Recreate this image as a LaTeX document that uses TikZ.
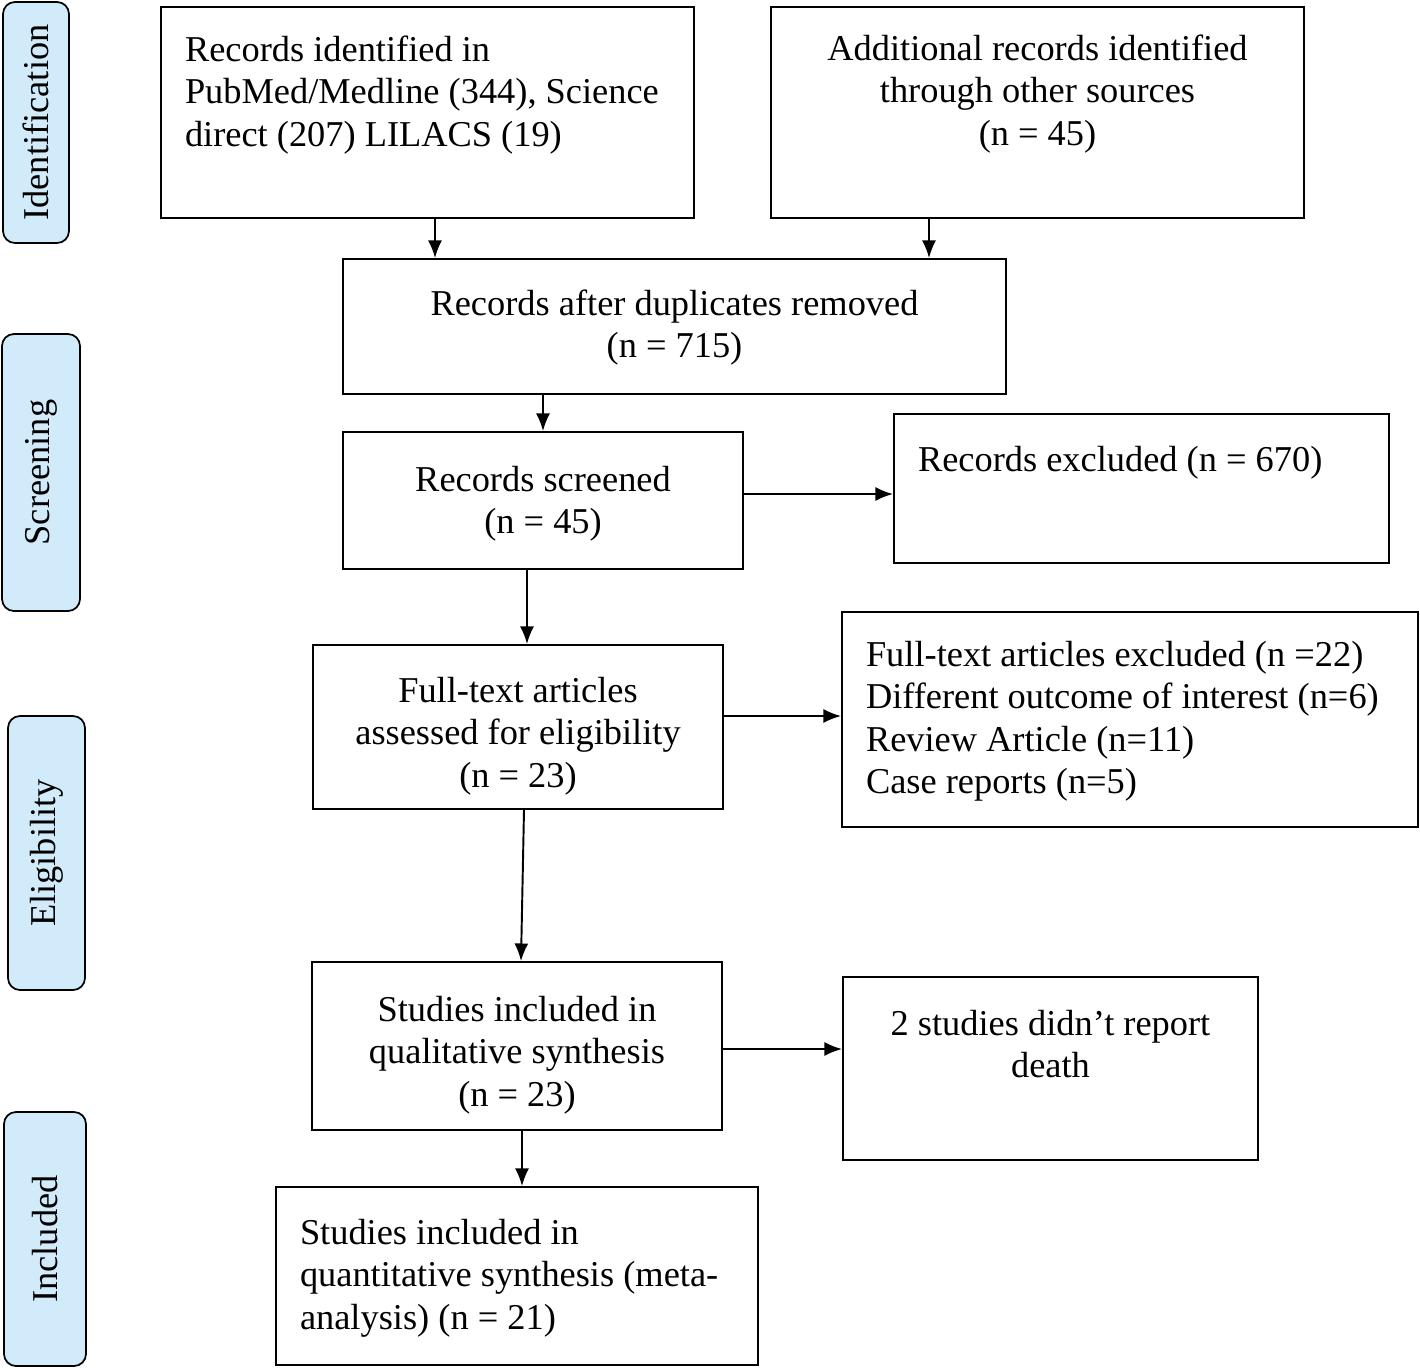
\documentclass[tikz,border=0pt]{standalone}
\usepackage{fontspec}
\setmainfont{Liberation Serif}
\usetikzlibrary{arrows.meta}
\definecolor{stageblue}{RGB}{210,235,251}

\begin{document}
\begin{tikzpicture}[>={Latex[length=10pt,width=8pt]}]
	\tikzstyle{block} = [draw, shape=rectangle, line width=1.1pt, inner xsep=0.48cm, inner ysep=0pt, font=\fontsize{20.7}{24.2}\selectfont]
	\tikzstyle{lblock} = [block, align=flush left]
	\tikzstyle{cblock} = [block, align=flush center]
	\tikzstyle{stage} = [draw, shape=rectangle, rounded corners=0.24cm, fill=stageblue, line width=1pt, rotate=90, font=\fontsize{20.7}{24.2}\selectfont]
	\useasboundingbox (0,0) rectangle (28.4,-27.36);
	%Phase labels
	\node [stage, minimum width=4.82cm, minimum height=1.32cm] at (0.72,-2.45) (lident) {Identification};
	\node [stage, minimum width=5.54cm, minimum height=1.56cm] at (0.82,-9.45) (lscreen) {Screening};
	\node [stage, minimum width=5.48cm, minimum height=1.54cm] at (0.93,-17.06) (lelig) {Eligibility};
	\node [stage, minimum width=5.08cm, minimum height=1.64cm] at (0.90,-24.78) (lincl) {Included};
	%Creating Blocks
	\node [lblock, text width=9.70cm, text height=1.08cm, text depth=3.14cm] at (8.55,-2.25) (ident) {Records identified in\\ PubMed/Medline (344), Science\\ direct (207) LILACS (19)};
	\node [cblock, text width=9.70cm, text height=1.06cm, text depth=3.16cm] at (20.75,-2.25) (other) {Additional records identified\\ through other sources\\ (n = 45)};
	\node [cblock, text width=12.30cm, text height=1.12cm, text depth=1.58cm] at (13.49,-6.53) (dupl) {Records after duplicates removed\\ (n = 715)};
	\node [cblock, text width=7.04cm, text height=1.18cm, text depth=1.56cm] at (10.86,-10.01) (screen) {Records screened\\ (n = 45)};
	\node [lblock, text width=8.94cm, text height=1.14cm, text depth=1.84cm] at (22.83,-9.77) (excl) {Records excluded (n = 670)};
	\node [cblock, text width=7.24cm, text height=1.14cm, text depth=2.14cm] at (10.36,-14.54) (full) {Full-text articles\\ assessed for eligibility\\ (n = 23)};
	\node [lblock, text width=10.56cm, text height=1.08cm, text depth=3.22cm] at (22.60,-14.39) (fexcl) {Full-text articles excluded (n =22)\\ Different outcome of interest (n=6)\\ Review Article (n=11)\\ Case reports (n=5)};
	\node [cblock, text width=7.24cm, text height=1.18cm, text depth=2.18cm] at (10.34,-20.92) (qual) {Studies included in\\ qualitative synthesis\\ (n = 23)};
	\node [cblock, text width=7.34cm, text height=1.16cm, text depth=2.50cm] at (21.01,-21.37) (nodeath) {2 studies didn’t report\\ death};
	\node [lblock, text width=8.68cm, text height=1.14cm, text depth=2.42cm] at (10.34,-25.52) (quant) {Studies included in\\ quantitative synthesis (meta-\\ analysis) (n = 21)};
	%Conecting Blocks
	\begin{scope}[line width=1.1pt]
	\draw[->] ([xshift=0.15cm]ident.south) -- ([xshift=0.15cm]ident.south |- dupl.north);
	\draw[->] ([xshift=-2.17cm]other.south) -- ([xshift=-2.17cm]other.south |- dupl.north);
	\draw[->] (screen.north |- dupl.south) -- (screen.north);
	\draw[->] ([yshift=0.13cm]screen.east) -- ([yshift=0.13cm]screen.east -| excl.west);
	\draw[->] ([xshift=-0.32cm]screen.south) -- ([xshift=-0.32cm]screen.south |- full.north);
	\draw[->] ([yshift=0.22cm]full.east) -- ([yshift=0.22cm]full.east -| fexcl.west);
	\draw[->] ([xshift=0.12cm]full.south) -- ([xshift=0.08cm]qual.north);
	\draw[->] ([yshift=-0.06cm]qual.east) -- ([yshift=-0.06cm]qual.east -| nodeath.west);
	\draw[->] ([xshift=0.1cm]qual.south) -- ([xshift=0.1cm]qual.south |- quant.north);
	\end{scope}
\end{tikzpicture}
\end{document}
